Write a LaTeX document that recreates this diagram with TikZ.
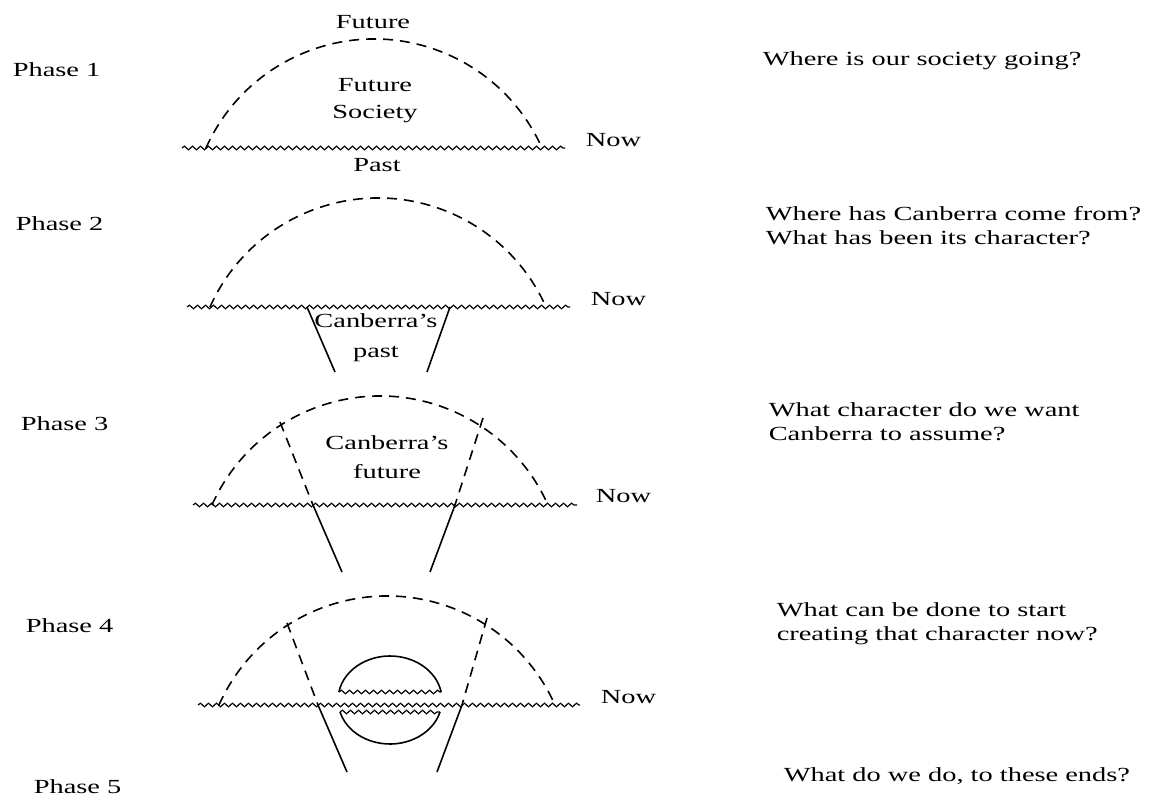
\documentclass[tikz,border=0pt]{standalone}
\usepackage{fontspec}
\setmainfont[FakeStretch=1.42]{Liberation Serif}
\usetikzlibrary{decorations.pathmorphing}
\tikzset{every picture/.style={line width=0.8pt}}

\begin{document}
\begin{tikzpicture}[x=0.5pt, y=-0.5pt,
    every node/.style={font=\fontsize{10}{12}\selectfont, inner sep=0pt},
    wave/.style={decorate, line width=0.6pt, decoration={snake, segment length=4pt, amplitude=0.9pt}},
    horizon/.style={dash pattern=on 5pt off 3.5pt},
    question/.style={anchor=west, align=left}]
    \useasboundingbox (0,0) rectangle (1164,804);

    % phase labels on the left
    \foreach \n/\x/\y in {1/12/70, 2/15/224, 3/20/424, 4/25/626, 5/33/787}
        \node[anchor=west] (phase\n) at (\x,\y) {Phase \n};

    % phase 1
    \coordinate (c1) at (374,223);
    \draw[horizon] (c1) ++(204:184) arc[start angle=204, end angle=336, radius=184];
    \draw[wave] (182,148) -- (565,148);
    \node (fut1) at (373,22) {Future};
    \node[align=center] (soc1) at (375,101) {Future\\[1.5pt]Society};
    \node (past1) at (377,165) {Past};
    \node[anchor=west] (now1) at (585,140) {Now};
    \node[question] (q1) at (762,61) {Where is our society going?};

    % phase 2
    \coordinate (c2) at (378,382);
    \draw[horizon] (c2) ++(204:184) arc[start angle=204, end angle=336, radius=184];
    \draw[wave] (187,307) -- (570,307);
    \draw (307,307) -- (335,372);
    \draw (450,307) -- (427,372);
    \node[align=center] (past2) at (376,338) {Canberra's\\[3pt]past};
    \node[anchor=west] (now2) at (590,299) {Now};
    \node[question] (q2) at (765,226) {Where has Canberra come from?\\What has been its character?};

    % phase 3
    \coordinate (c3) at (380,580);
    \draw[horizon] (c3) ++(204:184) arc[start angle=204, end angle=336, radius=184];
    \draw[wave] (193,505) -- (577,505);
    \draw[horizon] (280,422) -- (313,505);
    \draw (313,505) -- (342,572);
    \draw[horizon] (483,418) -- (455,505);
    \draw (455,505) -- (430,572);
    \node[align=center] (fut3) at (387,457) {Canberra's\\[2.5pt]future};
    \node[anchor=west] (now3) at (595,496) {Now};
    \node[question] (q3) at (768,422) {What character do we want\\Canberra to assume?};

    % phase 4
    \coordinate (c4) at (387,780);
    \draw[horizon] (c4) ++(204:184) arc[start angle=204, end angle=336, radius=184];
    \draw[wave] (198,705) -- (580,705);
    \draw[horizon] (287,623) -- (318,705);
    \draw (318,705) -- (347,772);
    \draw[horizon] (487,618) -- (462,705);
    \draw (462,705) -- (437,772);
    \coordinate (e4) at (390,700);
    \draw (e4) ++(190.5:52 and 44) arc[start angle=190.5, end angle=349.5, x radius=52, y radius=44];
    \draw[wave] (339,692) -- (441,692);
    \draw[wave] (340,712) -- (440,712);
    \draw (e4) ++(15.8:52 and 44) arc[start angle=15.8, end angle=164.2, x radius=52, y radius=44];
    \node[anchor=west] (now4) at (600,697) {Now};
    \node[question] (q4) at (776,624) {What can be done to start\\creating that character now?};

    % phase 5
    \node[question] (q5) at (783,776) {What do we do, to these ends?};
\end{tikzpicture}
\end{document}
